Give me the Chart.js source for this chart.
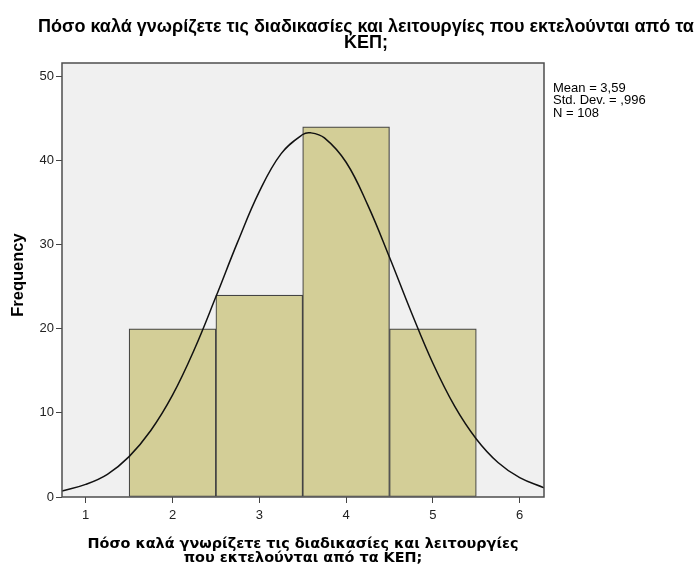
<!DOCTYPE html>
<html>
<head>
<meta charset="utf-8">
<script src="https://cdn.jsdelivr.net/npm/chart.js@4.4.1/dist/chart.umd.min.js"></script>
<style>
  html, body { margin: 0; padding: 0; background: #fff; }
  #wrap { width: 700px; height: 566px; }
</style>
</head>
<body>
<div id="wrap"><canvas id="hist" width="700" height="566"></canvas></div>
<script>
// histogram bins (value -> count)
const binCenters = [2, 3, 4, 5];
const frequencies = [20, 24, 44, 20];

// normal curve
const curveX = [0.727, 1, 1.25, 1.5, 1.75, 2, 2.25, 2.5, 2.75, 3, 3.25, 3.5, 3.59, 3.75, 4, 4.25, 4.5, 4.75, 5, 5.25, 5.5, 5.75, 6, 6.28];
const curveY = [0.7, 1.5, 2.7, 4.8, 7.9, 12.1, 17.5, 23.8, 30.3, 36.3, 40.8, 43.1, 43.3, 42.7, 39.8, 34.7, 28.5, 22.0, 15.9, 10.8, 6.9, 4.1, 2.3, 1.1];

const xTickLabels = [1, 2, 3, 4, 5, 6];
const yTickLabels = [0, 10, 20, 30, 40, 50];

const titleLines = ["Πόσο καλά γνωρίζετε τις διαδικασίες και λειτουργίες που εκτελούνται από τα", "ΚΕΠ;"];
const xTitleLines = ["Πόσο καλά γνωρίζετε τις διαδικασίες και λειτουργίες", "που εκτελούνται από τα ΚΕΠ;"];
const yTitle = "Frequency";
const statsLines = ["Mean = 3,59", "Std. Dev. = ,996", "N = 108"];

// background, frame and texts
const spssLook = {
  id: "spssLook",
  beforeDraw(chart) {
    const { ctx, chartArea: a } = chart;
    ctx.save();
    ctx.fillStyle = "#f0f0f0";
    ctx.fillRect(a.left, a.top, a.right - a.left, a.bottom - a.top);
    ctx.restore();
  },
  afterDraw(chart) {
    const { ctx, chartArea: a } = chart;
    ctx.save();
    ctx.strokeStyle = "#4d4d4d";
    ctx.lineWidth = 1.5;
    ctx.strokeRect(a.left, a.top, a.right - a.left, a.bottom - a.top);

    ctx.fillStyle = "#000";
    ctx.textAlign = "center";
    ctx.textBaseline = "middle";
    ctx.font = "bold 18px 'Liberation Sans', Arial, sans-serif";
    ctx.fillText(titleLines[0], 366, 27);
    ctx.fillText(titleLines[1], 366, 43);

    ctx.font = "bold 14.4px 'DejaVu Sans', Verdana, sans-serif";
    ctx.fillText(xTitleLines[0], 303, 544);
    ctx.fillText(xTitleLines[1], 303, 558);

    ctx.save();
    ctx.translate(18, 275);
    ctx.rotate(-Math.PI / 2);
    ctx.font = "bold 16.5px 'Liberation Sans', Arial, sans-serif";
    ctx.fillText(yTitle, 0, 0);
    ctx.restore();

    ctx.textAlign = "left";
    ctx.font = "13px 'Liberation Sans', Arial, sans-serif";
    statsLines.forEach((t, i) => ctx.fillText(t, 553, 88 + i * 12.8));
    ctx.restore();
  }
};

const ctx = document.getElementById("hist");

new Chart(ctx, {
  type: "bar",
  data: {
    datasets: [
      {
        type: "line",
        data: curveX.map((x, i) => ({ x: x, y: curveY[i] })),
        borderColor: "#111",
        borderWidth: 1.5,
        pointRadius: 0,
        tension: 0.4,
        fill: false,
        order: 0
      },
      {
        type: "bar",
        data: binCenters.map((x, i) => ({ x: x, y: frequencies[i] })),
        backgroundColor: "#d3ce97",
        borderColor: "#444",
        borderWidth: 1.2,
        borderSkipped: false,
        barPercentage: 1,
        categoryPercentage: 1,
        grouped: false,
        order: 1
      }
    ]
  },
  plugins: [spssLook],
  options: {
    responsive: false,
    animation: false,
    devicePixelRatio: 1,
    layout: { padding: { top: 63, right: 156, left: 0, bottom: 0 } },
    plugins: { legend: { display: false }, tooltip: { enabled: false } },
    scales: {
      x: {
        type: "linear",
        offset: false,
        min: 0.727,
        max: 6.28,
        afterBuildTicks: (s) => { s.ticks = xTickLabels.map((v) => ({ value: v })); },
        afterFit: (s) => { s.height = 69; },
        ticks: { color: "#222", font: { size: 13, family: "'Liberation Sans', Arial" }, padding: 5, maxRotation: 0, autoSkip: false },
        grid: { offset: false, drawOnChartArea: false, drawTicks: true, tickLength: 6, color: "#444" },
        border: { display: false }
      },
      y: {
        min: 0,
        max: 51.6,
        afterBuildTicks: (s) => { s.ticks = yTickLabels.map((v) => ({ value: v })); },
        afterFit: (s) => { s.width = 62; },
        ticks: { color: "#222", font: { size: 13, family: "'Liberation Sans', Arial" }, padding: 2 },
        grid: { drawOnChartArea: false, drawTicks: true, tickLength: 6, color: "#444" },
        border: { display: false }
      }
    }
  }
});
</script>
</body>
</html>
